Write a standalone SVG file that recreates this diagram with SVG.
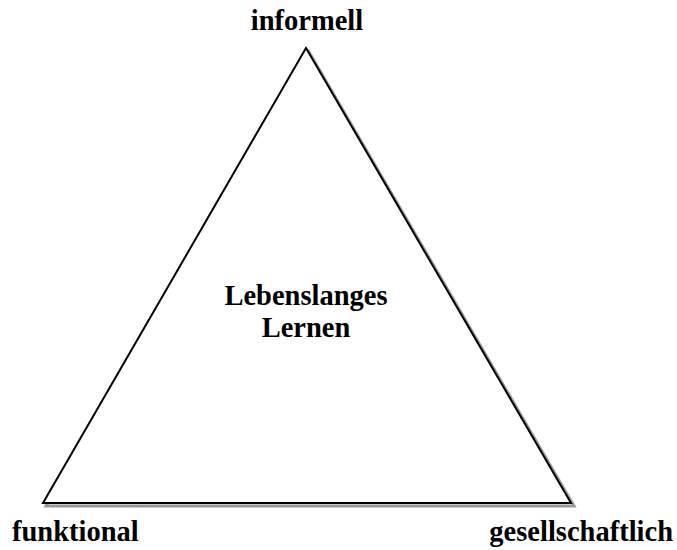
<svg xmlns="http://www.w3.org/2000/svg" width="677" height="550" viewBox="0 0 677 550">
<style>
.t{font-family:"Liberation Serif","Times New Roman",serif;font-weight:bold;font-size:28.5px;fill:#000}
</style>
<rect width="677" height="550" fill="#fff"/>
<g id="triangle">
<polygon points="309,52 574,506 46,506" fill="none" stroke="#999" stroke-width="3"/>
<polygon points="306,48 571,503 43,503" fill="#fff" stroke="#000" stroke-width="2" stroke-linejoin="miter"/>
</g>
<g id="center"><text class="t" x="306" y="305" text-anchor="middle">Lebenslanges</text><text class="t" x="306" y="337" text-anchor="middle">Lernen</text></g>
<g id="top"><text class="t" x="307" y="30" text-anchor="middle">informell</text></g>
<g id="left"><text class="t" x="12" y="541">funktional</text></g>
<g id="right"><text class="t" x="673" y="541" text-anchor="end">gesellschaftlich</text></g>
<g id="connectors"/>
</svg>
